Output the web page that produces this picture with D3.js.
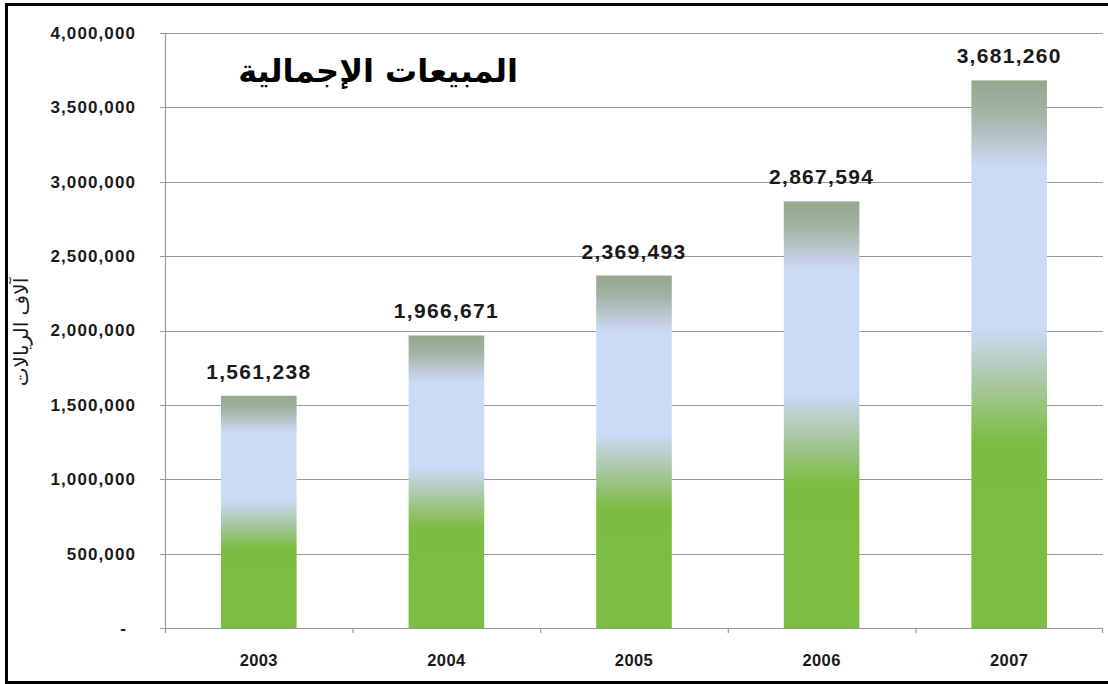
<!DOCTYPE html>
<html><head><meta charset="utf-8">
<script src="https://cdn.jsdelivr.net/npm/d3@7/dist/d3.min.js"></script>
<style>html,body{margin:0;padding:0;background:#fff;}svg{display:block;}</style>
</head><body>
<svg id="chart" width="1108" height="684"></svg>
<script>
const categories = ["2003", "2004", "2005", "2006", "2007"];
const values = [1561238, 1966671, 2369493, 2867594, 3681260];
const yTicks = [0, 500000, 1000000, 1500000, 2000000, 2500000, 3000000, 3500000, 4000000];
const titleText = "المبيعات الإجمالية";
const yAxisTitle = "آلاف الريالات";

const svg = d3.select("#chart");
const W = 1108, H = 684;
const m = {left: 165, right: 5, top: 33, bottom: 56};
const x0 = m.left, x1 = W - m.right, yTop = m.top, yBot = H - m.bottom;

svg.append("rect").attr("x", 0).attr("y", 0).attr("width", W).attr("height", H).attr("fill", "#fff");
// outer frame
svg.append("rect").attr("x", 6.5).attr("y", 4.5).attr("width", W + 10).attr("height", H - 6)
  .attr("fill", "none").attr("stroke", "#000").attr("stroke-width", 3);

const x = d3.scaleBand().domain(categories).range([x0, x1]).paddingInner(0.597).paddingOuter(0.2985);
const y = d3.scaleLinear().domain([0, 4000000]).range([yBot, yTop]);

const defs = svg.append("defs");
const grad = defs.append("linearGradient").attr("id", "barGrad")
  .attr("x1", 0).attr("y1", 0).attr("x2", 0).attr("y2", 1);
[[0, "#93a88c"], [0.06, "#a2b4a4"], [0.16, "#cddaf6"], [0.45, "#cddaf6"], [0.55, "#a9c8a4"], [0.66, "#7cbd41"], [1, "#7cbe41"]]
  .forEach(([o, c]) => grad.append("stop").attr("offset", o).attr("stop-color", c));

// gridlines
const grid = svg.append("g");
grid.selectAll("line").data(yTicks).join("line")
  .attr("x1", x0 - 5).attr("x2", x1).attr("y1", d => Math.round(y(d)) + 0.5).attr("y2", d => Math.round(y(d)) + 0.5)
  .attr("stroke", "#9a9a9a").attr("stroke-width", 1.2);

const fontAx = "Liberation Sans, Arial, sans-serif";

// y axis
const yAxis = d3.axisLeft(y).tickValues(yTicks).tickSize(0).tickPadding(29)
  .tickFormat(d => d === 0 ? "-" : d3.format(",")(d));
const gy = svg.append("g").attr("transform", `translate(${x0},0)`).call(yAxis);
gy.select(".domain").remove();
gy.selectAll("text").attr("font-family", fontAx).attr("font-weight", "bold")
  .attr("font-size", 17).attr("letter-spacing", 1.1).attr("fill", "#1a1a1a");
gy.selectAll(".tick").filter(d => d === 0).select("text").attr("dx", -9);
svg.append("line").attr("x1", x0 + 0.5).attr("x2", x0 + 0.5).attr("y1", yTop).attr("y2", yBot + 5)
  .attr("stroke", "#9a9a9a").attr("stroke-width", 1.2);

// x axis
const xAxis = d3.axisBottom(x).tickSize(0).tickPadding(26);
const gx = svg.append("g").attr("transform", `translate(0,${yBot})`).call(xAxis);
gx.select(".domain").remove();
gx.selectAll("text").attr("font-family", fontAx).attr("font-weight", "bold")
  .attr("font-size", 16.5).attr("letter-spacing", 0.4).attr("fill", "#1a1a1a");
const step = x.step();
const bounds = d3.range(categories.length + 1).map(i => x0 + i * step);
svg.append("g").selectAll("line").data(bounds.slice(1)).join("line")
  .attr("x1", d => Math.min(d, x1 - 1) + 0.5).attr("x2", d => Math.min(d, x1 - 1) + 0.5)
  .attr("y1", yBot).attr("y2", yBot + 5).attr("stroke", "#9a9a9a").attr("stroke-width", 1.2);

// bars
svg.append("g").selectAll("rect").data(values).join("rect")
  .attr("x", (d, i) => x(categories[i])).attr("width", x.bandwidth())
  .attr("y", d => y(d)).attr("height", d => yBot - y(d))
  .attr("fill", "url(#barGrad)");

// value labels
svg.append("g").selectAll("text").data(values).join("text")
  .attr("x", (d, i) => x(categories[i]) + x.bandwidth() / 2).attr("y", d => y(d) - 17)
  .attr("text-anchor", "middle").attr("font-family", fontAx)
  .attr("font-weight", "bold").attr("font-size", 21).attr("letter-spacing", 1.3).attr("fill", "#1a1a1a")
  .text(d => d3.format(",")(d));

// title
svg.append("text").attr("x", 378).attr("y", 82).attr("text-anchor", "middle")
  .attr("font-family", "DejaVu Sans, sans-serif").attr("font-weight", "bold").attr("font-size", 32)
  .attr("fill", "#000").attr("direction", "rtl").text(titleText);

// y axis title
svg.append("text").attr("transform", "translate(28,332) rotate(-90)").attr("text-anchor", "middle")
  .attr("font-family", "DejaVu Sans, sans-serif").attr("font-size", 20).attr("fill", "#1a1a1a")
  .attr("direction", "rtl").text(yAxisTitle);
</script>
</body></html>
